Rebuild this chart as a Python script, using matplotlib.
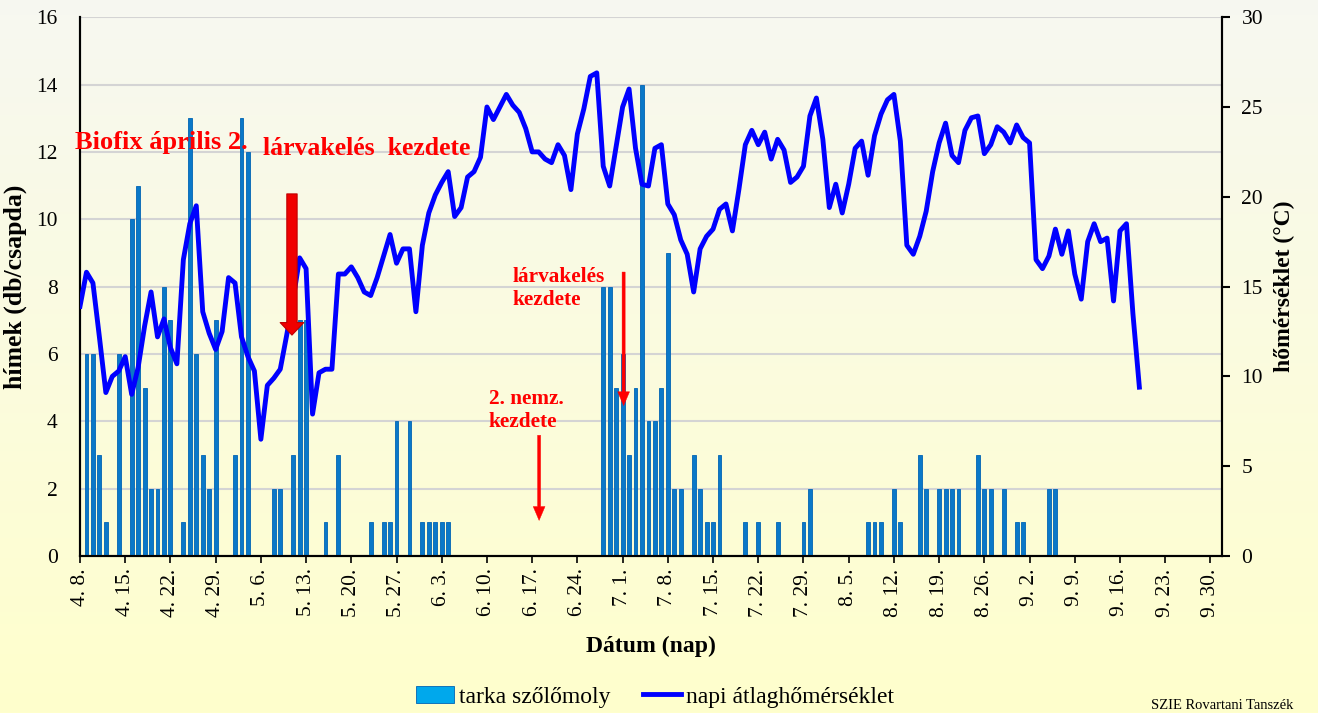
import numpy as np
import pandas as pd
import matplotlib
matplotlib.use('Agg')
import matplotlib.pyplot as plt
import matplotlib.dates as mdates

plt.rcParams['font.family'] = ['Liberation Serif', 'DejaVu Serif']

year = 2010
start_date = f'{year}-04-08'
end_date = f'{year}-09-30'

# csapdazott himek (db/csapda) - datum: honap.nap
trap_days = ['4.9', '4.10', '4.11', '4.12', '4.14', '4.16', '4.17', '4.18', '4.19', '4.20',
             '4.21', '4.22', '4.24', '4.25', '4.26', '4.27', '4.28', '4.29', '5.2', '5.3',
             '5.4', '5.8', '5.9', '5.11', '5.12', '5.13', '5.16', '5.18', '5.23', '5.25',
             '5.26', '5.27', '5.29', '5.31', '6.1', '6.2', '6.3', '6.4', '6.28', '6.29',
             '6.30', '7.1', '7.2', '7.3', '7.4', '7.5', '7.6', '7.7', '7.8', '7.9',
             '7.10', '7.12', '7.13', '7.14', '7.15', '7.16', '7.20', '7.22', '7.25', '7.29',
             '7.30', '8.8', '8.9', '8.10', '8.12', '8.13', '8.16', '8.17', '8.19', '8.20',
             '8.21', '8.22', '8.25', '8.26', '8.27', '8.29', '8.31', '9.1', '9.5', '9.6']
trap_counts = [6, 6, 3, 1, 6, 10, 11, 5, 2, 2,
               8, 7, 1, 13, 6, 3, 2, 7, 3, 13,
               12, 2, 2, 3, 7, 7, 1, 3, 1, 1,
               1, 4, 4, 1, 1, 1, 1, 1, 8, 8,
               5, 6, 3, 5, 14, 4, 4, 5, 9, 2,
               2, 3, 2, 1, 1, 3, 1, 1, 1, 1,
               2, 1, 1, 1, 2, 1, 3, 2, 2, 2,
               2, 2, 3, 2, 2, 2, 1, 1, 2, 2]

# napi atlaghomerseklet (C), 4.8-tol naponta
temps = [13.9, 15.8, 15.2, 12.2, 9.1, 10.0, 10.3, 11.1, 9.0, 10.5,
         12.8, 14.7, 12.2, 13.2, 11.6, 10.7, 16.5, 18.5, 19.5, 13.6,
         12.4, 11.5, 12.5, 15.5, 15.2, 12.2, 11.1, 10.3, 6.5, 9.5,
         9.9, 10.4, 12.3, 14.3, 16.6, 16.0, 7.9, 10.2, 10.4, 10.4,
         15.7, 15.7, 16.1, 15.5, 14.7, 14.5, 15.5, 16.7, 17.9, 16.3,
         17.1, 17.1, 13.6, 17.3, 19.1, 20.1, 20.8, 21.4, 18.9, 19.4,
         21.1, 21.4, 22.2, 25.0, 24.3, 25.0, 25.7, 25.1, 24.7, 23.8,
         22.5, 22.5, 22.1, 21.9, 22.9, 22.3, 20.4, 23.5, 24.9, 26.7,
         26.9, 21.7, 20.6, 22.8, 25.0, 26.0, 22.7, 20.7, 20.6, 22.7,
         22.9, 19.6, 19.0, 17.6, 16.8, 14.7, 17.1, 17.8, 18.2, 19.3,
         19.6, 18.1, 20.4, 22.9, 23.7, 22.9, 23.6, 22.1, 23.2, 22.6,
         20.8, 21.1, 21.7, 24.5, 25.5, 23.2, 19.4, 20.7, 19.1, 20.7,
         22.7, 23.1, 21.2, 23.4, 24.6, 25.4, 25.7, 23.1, 17.3, 16.8,
         17.8, 19.2, 21.4, 23.0, 24.1, 22.3, 21.9, 23.7, 24.4, 24.5,
         22.4, 22.9, 23.9, 23.6, 23.0, 24.0, 23.3, 23.0, 16.5, 16.0,
         16.7, 18.2, 16.8, 18.1, 15.7, 14.3, 17.5, 18.5, 17.5, 17.7,
         14.2, 18.1, 18.5, 13.5, 9.4]

trap_dates = pd.to_datetime([f'{year}.{d}' for d in trap_days], format='%Y.%m.%d')
temp_dates = pd.date_range(start_date, periods=len(temps), freq='D')
week_ticks = pd.date_range(start_date, end_date, freq='7D')

fig = plt.figure(figsize=(13.18, 7.13), dpi=100)

# hatter szinatmenet
bg = fig.add_axes([0, 0, 1, 1], zorder=-10)
top_c = np.array([0.968, 0.972, 0.945])
bot_c = np.array([1.0, 1.0, 0.80])
t = np.linspace(0, 1, 256)[:, None]
grad = top_c * (1 - t) + bot_c * t
bg.imshow(grad[:, None, :], aspect='auto', extent=[0, 1, 0, 1])
bg.axis('off')

ax = fig.add_axes([0.0607, 0.2202, 0.8665, 0.7557], zorder=1)
ax.set_facecolor('none')
ax2 = ax.twinx()

ax.bar(trap_dates, trap_counts, width=0.6, color='#0A78C8', edgecolor='#0064B4',
       linewidth=0.6, label='tarka szőlőmoly', zorder=3)
ax2.plot(temp_dates, temps, color='#0000FF', linewidth=3.5,
         label='napi átlaghőmérséklet', zorder=4)

x0 = mdates.date2num(pd.Timestamp(start_date))
ax.set_xlim(x0, x0 + 176.8)
ax.set_ylim(0, 16)
ax2.set_ylim(0, 30)
ax.set_yticks(range(0, 17, 2))
ax2.set_yticks(range(0, 31, 5))
ax.set_xticks(week_ticks)
ax.set_xticklabels([f'{d.month}. {d.day}.' for d in week_ticks], rotation=90, fontsize=15.5)

ax.grid(axis='y', color='#D4D4D4', linewidth=1.5, zorder=0)
ax.set_axisbelow(True)
ax.tick_params(axis='y', length=0, labelsize=15.5, pad=16)
ax2.tick_params(axis='y', direction='out', length=6, width=1.5, labelsize=15.5, pad=8)
ax.tick_params(axis='x', direction='out', length=5, width=1.2, pad=4)
for a in (ax, ax2):
    a.spines['top'].set_visible(False)
    for s in ('left', 'right', 'bottom'):
        a.spines[s].set_linewidth(1.5)

ax.set_ylabel('hímek (db/csapda)', fontsize=18.5, fontweight='bold', labelpad=7)
ax2.set_ylabel('hőmérséklet (°C)', fontsize=17, fontweight='bold', labelpad=8)
ax.set_xlabel('Dátum (nap)', fontsize=17, fontweight='bold', labelpad=14)

# feliratok es nyilak
red = '#FF0000'
ax2.text(-0.004, 0.768, 'Biofix április 2.', transform=ax.transAxes, color=red,
         fontsize=19, fontweight='bold', va='center', ha='left', zorder=6)
ax2.text(0.160, 0.757, 'lárvakelés  kezdete', transform=ax.transAxes, color=red,
         fontsize=18.5, fontweight='bold', va='center', ha='left', zorder=6)
ax2.text(0.379, 0.497, 'lárvakelés\nkezdete', transform=ax.transAxes, color=red,
         fontsize=15.3, fontweight='bold', va='center', ha='left', linespacing=1.2, zorder=6)
ax2.text(0.358, 0.270, '2. nemz.\nkezdete', transform=ax.transAxes, color=red,
         fontsize=15.3, fontweight='bold', va='center', ha='left', linespacing=1.15, zorder=6)

ax2.annotate('', xy=(0.1856, 0.410), xytext=(0.1856, 0.672), xycoords='axes fraction',
             arrowprops=dict(arrowstyle='simple,head_length=0.45,head_width=0.85,tail_width=0.37',
                             mutation_scale=20, fc='#F00000', ec='#C00000', lw=0.8,
                             shrinkA=0, shrinkB=0), zorder=7)
ax2.annotate('', xy=(0.476, 0.279), xytext=(0.476, 0.527), xycoords='axes fraction',
             arrowprops=dict(arrowstyle='simple,head_length=1.0,head_width=0.85,tail_width=0.22',
                             mutation_scale=10, fc=red, ec=red, lw=0.3,
                             shrinkA=0, shrinkB=0), zorder=7)
ax2.annotate('', xy=(0.402, 0.066), xytext=(0.402, 0.224), xycoords='axes fraction',
             arrowprops=dict(arrowstyle='simple,head_length=1.0,head_width=0.85,tail_width=0.22',
                             mutation_scale=10, fc=red, ec=red, lw=0.3,
                             shrinkA=0, shrinkB=0), zorder=7)

h1, l1 = ax.get_legend_handles_labels()
h2, l2 = ax2.get_legend_handles_labels()
leg = fig.legend(h1 + h2, l1 + l2, loc='center', bbox_to_anchor=(0.497, 0.0225), ncol=2,
                 frameon=False, fontsize=17, handlelength=1.6, handletextpad=0.2,
                 columnspacing=1.4)
leg.legend_handles[0].set_facecolor('#00A8EC')
leg.legend_handles[0].set_edgecolor('#0064B4')

fig.text(0.873, 0.001, 'SZIE Rovartani Tanszék', fontsize=10.5, va='bottom', ha='left')

fig.savefig('out.png', dpi=100)
